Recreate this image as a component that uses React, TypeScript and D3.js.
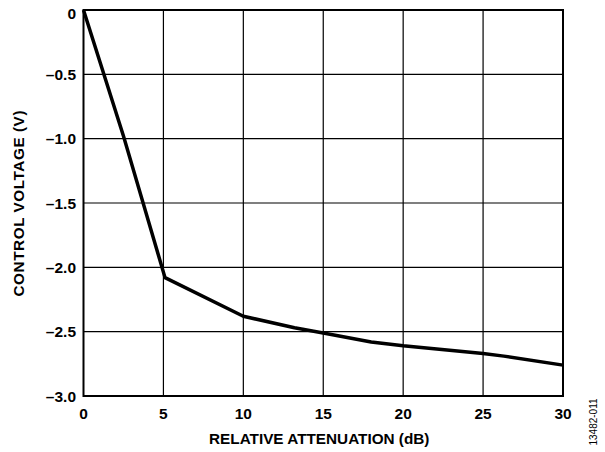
import React from "react";
import * as d3 from "d3";

const attenuation = [0, 2.5, 5.1, 10, 13.2, 15, 18, 20, 25, 26.3, 30];
const controlVoltage = [0, -0.98, -2.08, -2.38, -2.47, -2.51, -2.58, -2.61, -2.67, -2.69, -2.76];
const xTicks = [0, 5, 10, 15, 20, 25, 30];
const yTicks = [0, -0.5, -1.0, -1.5, -2.0, -2.5, -3.0];
const xTitle = "RELATIVE ATTENUATION (dB)";
const yTitle = "CONTROL VOLTAGE (V)";
const figId = "13482-011";

const W = 605;
const H = 452;
const L = 83.5;
const R = 563;
const T = 10;
const B = 396;

export default function App() {
  const x = d3.scaleLinear().domain([0, 30]).range([L, R]);
  const y = d3.scaleLinear().domain([0, -3]).range([T, B]);
  const pts: [number, number][] = attenuation.map((a, i) => [a, controlVoltage[i]]);
  const line = d3
    .line<[number, number]>()
    .x((d) => x(d[0]))
    .y((d) => y(d[1]));
  const fmtY = (v: number) => (v === 0 ? "0" : "\u2013" + Math.abs(v).toFixed(1));
  const font = "'Liberation Sans', Arial, Helvetica, sans-serif";
  return (
    <svg
      width={W}
      height={H}
      viewBox={`0 0 ${W} ${H}`}
      style={{ position: "absolute", left: 0, top: 0, background: "#fff" }}
      fontFamily={font}
    >
      <rect x={0} y={0} width={W} height={H} fill="#fff" />
      {xTicks.slice(1, -1).map((t) => (
        <line key={"gx" + t} x1={x(t)} x2={x(t)} y1={T} y2={B} stroke="#000" strokeWidth={1.2} />
      ))}
      {yTicks.slice(1, -1).map((t) => (
        <line key={"gy" + t} x1={L} x2={R} y1={y(t)} y2={y(t)} stroke="#000" strokeWidth={1.2} />
      ))}
      <rect x={L} y={T} width={R - L} height={B - T} fill="none" stroke="#000" strokeWidth={2} />
      <path d={line(pts) || ""} fill="none" stroke="#000" strokeWidth={3.5} strokeLinejoin="round" />
      {xTicks.map((t) => (
        <text key={"tx" + t} x={x(t)} y={418.5} textAnchor="middle" fontSize={15.5} fontWeight="bold">
          {t}
        </text>
      ))}
      {yTicks.map((t) => (
        <text
          key={"ty" + t}
          x={76}
          y={t === 0 ? 18.5 : y(t) + 5.5}
          textAnchor="end"
          fontSize={15.5}
          fontWeight="bold"
        >
          {fmtY(t)}
        </text>
      ))}
      <text x={(L + R) / 2 - 4} y={444} textAnchor="middle" fontSize={15.3} fontWeight="bold">
        {xTitle}
      </text>
      <text
        transform={`translate(23.5, 203.5) rotate(-90)`}
        textAnchor="middle"
        fontSize={15.3}
        fontWeight="bold"
        textLength={186}
        lengthAdjust="spacing"
      >
        {yTitle}
      </text>
      <text transform={`translate(597, 422) rotate(-90)`} textAnchor="middle" fontSize={10}>
        {figId}
      </text>
    </svg>
  );
}
